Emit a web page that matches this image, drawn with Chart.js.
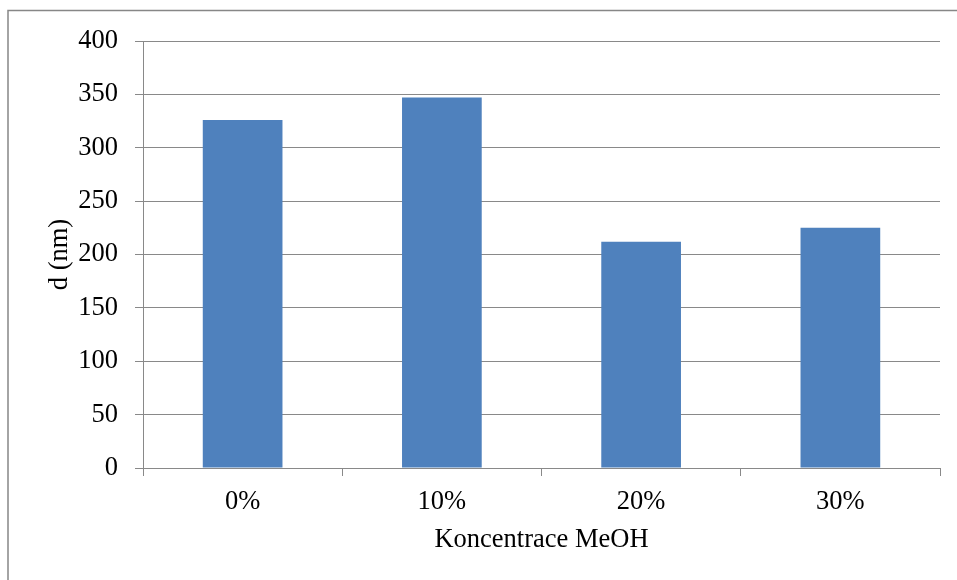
<!DOCTYPE html>
<html>
<head>
<meta charset="utf-8">
<script src="https://cdn.jsdelivr.net/npm/chart.js@4"></script>
<style>
  html, body { margin: 0; padding: 0; background: #ffffff; }
  #wrap { width: 957px; height: 580px; position: relative; }
</style>
</head>
<body>
<div id="wrap"><canvas id="c" width="957" height="580"></canvas></div>
<script>
// Particle size d (nm) by methanol concentration
const categories = ['0%', '10%', '20%', '30%'];
const diameters = [326, 347, 212, 225];
const yTicks = [0, 50, 100, 150, 200, 250, 300, 350, 400];

const gridGray = '#898989';
const serif = '"Liberation Serif", "Times New Roman", serif';
const fontSize = 26.5;

// Thin frame around the whole chart, open towards the lower right
const framePlugin = {
  id: 'frame',
  beforeDraw(chart) {
    const ctx = chart.ctx;
    ctx.save();
    ctx.strokeStyle = '#878787';
    ctx.lineWidth = 1.5;
    ctx.strokeRect(8, 10.5, 1200, 1200);
    ctx.restore();
  }
};

new Chart(document.getElementById('c'), {
  type: 'bar',
  data: {
    labels: categories,
    datasets: [{
      data: diameters,
      backgroundColor: '#4F81BD',
      borderWidth: 0,
      barPercentage: 0.4,
      categoryPercentage: 1.0
    }]
  },
  options: {
    responsive: false,
    animation: false,
    devicePixelRatio: 1,
    layout: { padding: { top: 41, right: 17, left: 0, bottom: 0 } },
    plugins: {
      legend: { display: false },
      tooltip: { enabled: false }
    },
    scales: {
      x: {
        afterFit(scale) { scale.height = 112; },
        grid: {
          drawOnChartArea: false,
          drawTicks: true,
          tickLength: 8,
          color: gridGray,
          lineWidth: 1
        },
        border: { display: true, color: gridGray, width: 1 },
        ticks: {
          color: '#000000',
          font: { family: serif, size: fontSize },
          padding: 10
        },
        title: {
          display: true,
          text: 'Koncentrace MeOH',
          color: '#000000',
          font: { family: serif, size: fontSize },
          padding: { top: 0, bottom: 24 }
        }
      },
      y: {
        min: 0,
        max: 400,
        afterFit(scale) { scale.width = 143; },
        afterBuildTicks(scale) { scale.ticks = yTicks.map(v => ({ value: v })); },
        grid: {
          color: gridGray,
          lineWidth: 1,
          tickLength: 8
        },
        border: { display: true, color: gridGray, width: 1 },
        ticks: {
          color: '#000000',
          font: { family: serif, size: fontSize },
          padding: 17
        },
        title: {
          display: true,
          text: 'd (nm)',
          color: '#000000',
          font: { family: serif, size: fontSize },
          padding: { top: 44, bottom: 0 }
        }
      }
    }
  },
  plugins: [framePlugin]
});
</script>
</body>
</html>
